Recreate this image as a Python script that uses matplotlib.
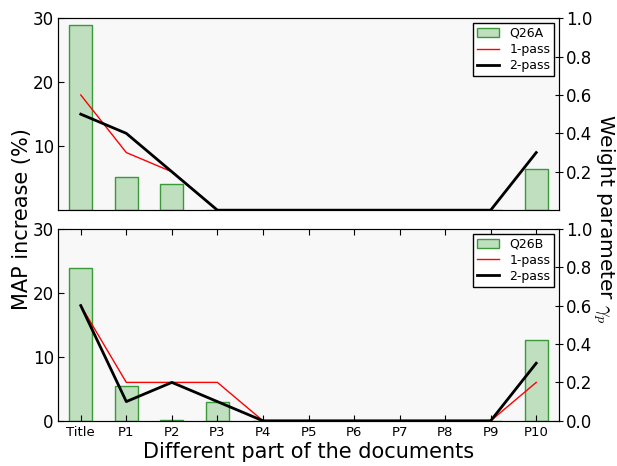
import matplotlib
matplotlib.use("Agg")
import matplotlib.pyplot as plt
import numpy as np

plt.rcParams["mathtext.fontset"] = "cm"

parts = ["Title", "P1", "P2", "P3", "P4", "P5", "P6", "P7", "P8", "P9", "P10"]

# Q26A
map_a = [29.0, 5.2, 4.1, 0.1, 0, 0, 0, 0, 0, 0.1, 6.5]
pass1_a = [0.6, 0.3, 0.2, 0, 0, 0, 0, 0, 0, 0, 0.3]
pass2_a = [0.5, 0.4, 0.2, 0, 0, 0, 0, 0, 0, 0, 0.3]

# Q26B
map_b = [23.8, 5.4, 0.2, 2.9, 0, 0, 0, 0, 0, 0, 12.6]
pass1_b = [0.6, 0.2, 0.2, 0.2, 0, 0, 0, 0, 0, 0, 0.2]
pass2_b = [0.6, 0.1, 0.2, 0.1, 0, 0, 0, 0, 0, 0, 0.3]

fig = plt.figure(figsize=(6.17, 4.66), dpi=100)
ax_top = fig.add_axes([0.094, 0.549, 0.812, 0.412])
ax_bot = fig.add_axes([0.094, 0.097, 0.812, 0.412])

x = np.arange(len(parts))


def panel(ax, bars, p1, p2, name, show_x):
    ax.set_facecolor("#f8f8f8")
    b = ax.bar(x, bars, width=0.5, color="#bfdfbf", edgecolor="#3a9a3a", linewidth=1, label=name)
    ax.set_xlim(-0.5, 10.5)
    ax.set_ylim(0, 30)
    ax.set_yticks([0, 10, 20, 30] if show_x else [10, 20, 30])
    if show_x:
        ax.set_xticks(x)
        ax.set_xticklabels(parts)
        ax.tick_params(axis="x", direction="in", top=True, labelsize=9.5, length=4, pad=4)
    else:
        ax.set_xticks([])
    ax.tick_params(axis="y", direction="in", labelsize=12, length=4, pad=3)
    for s in ax.spines.values():
        s.set_color("#444444")
    ax2 = ax.twinx()
    l1, = ax2.plot(x, p1, color="red", linewidth=1, label="1-pass")
    l2, = ax2.plot(x, p2, color="black", linewidth=2, label="2-pass")
    ax2.set_ylim(0, 1)
    ax2.set_yticks([0.0, 0.2, 0.4, 0.6, 0.8, 1.0] if show_x else [0.2, 0.4, 0.6, 0.8, 1.0])
    ax2.tick_params(axis="y", direction="inout", labelsize=12, length=6, pad=2)
    leg = ax2.legend([b, l1, l2], [name, "1-pass", "2-pass"], loc="upper right",
                     fontsize=9, fancybox=False, framealpha=1, edgecolor="black",
                     borderaxespad=0.4, handlelength=1.8, labelspacing=0.25,
                     borderpad=0.3, handletextpad=0.8)
    leg.get_frame().set_linewidth(1)
    return ax2


panel(ax_top, map_a, pass1_a, pass2_a, "Q26A", False)
panel(ax_bot, map_b, pass1_b, pass2_b, "Q26B", True)

fig.text(0.036, 0.53, "MAP increase (%)", rotation=90, va="center", ha="center", fontsize=15)
fig.text(0.979, 0.53, r"Weight parameter $\gamma_p$", rotation=270, va="center", ha="center", fontsize=14.5)
ax_bot.set_xlabel("Different part of the documents", fontsize=15, labelpad=2)

fig.savefig("out.png", dpi=100)
